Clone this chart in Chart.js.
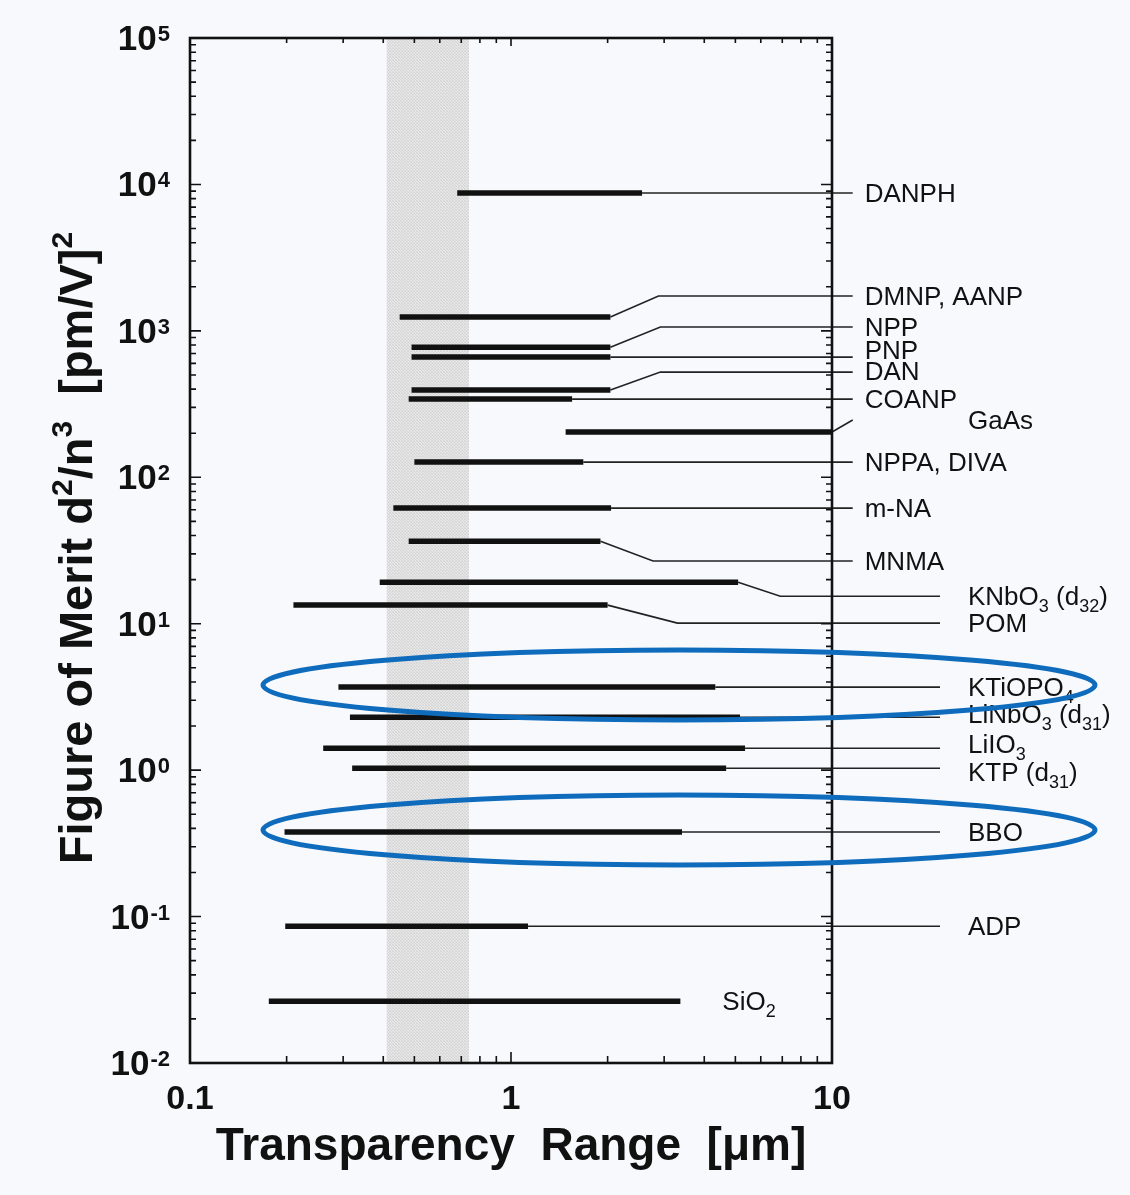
<!DOCTYPE html>
<html>
<head>
<meta charset="utf-8">
<script src="https://cdn.jsdelivr.net/npm/chart.js@4.4.1/dist/chart.umd.min.js"></script>
<style>
  html, body { margin: 0; padding: 0; background: #f7f9fc; }
  #wrap { width: 1130px; height: 1195px; }
</style>
</head>
<body>
<div id="wrap"><canvas id="c" width="1130" height="1195"></canvas></div>
<script>
// one entry per crystal, top to bottom; {..} marks a subscript
var materials = ["DANPH", "DMNP, AANP", "NPP", "PNP", "DAN", "COANP", "GaAs", "NPPA, DIVA", "m-NA", "MNMA",
  "KNbO{3} (d{32})", "POM", "KTiOPO{4}", "LiNbO{3} (d{31})", "LiIO{3}", "KTP (d{31})", "BBO", "ADP", "SiO{2}"];
// transparency range [um]
var rangeStart = [0.68, 0.45, 0.49, 0.49, 0.49, 0.48, 1.48, 0.50, 0.43, 0.48, 0.39, 0.21, 0.29, 0.315, 0.26, 0.32, 0.197, 0.198, 0.176];
var rangeEnd   = [2.56, 2.04, 2.04, 2.04, 2.04, 1.55, 10,   1.68, 2.05, 1.90, 5.1,  2.0,  4.33, 5.17,  5.36, 4.68, 3.41,  1.13,  3.37];
// figure of merit d^2/n^3 [(pm/V)^2]
var merit      = [8740, 1242, 774, 662, 394, 342, 204, 127, 61.6, 36.6, 19.2, 13.4, 3.69, 2.30, 1.41, 1.03, 0.378, 0.0859, 0.0264];
// leader lines: height at the label, where the slant ends, where the line stops
var labelMerit = [8740, 1728, 1062, 662, 523, 342, 246, 127, 61.6, 26.8, 15.4, 10.1, 3.69, 2.30, 1.41, 1.03, 0.378, 0.0859, null];
var kinkAt     = [null, 2.88, 2.92, null, 2.92, null, 11.6, null, null, 2.77, 6.9, 3.30, null, null, null, null, null, null, null];
var leaderEnd  = [11.6, 11.6, 11.6, 11.6, 11.6, 11.6, 21.7, 11.6, 11.6, 11.6, 21.7, 21.7, 21.7, 21.7, 21.7, 21.7, 21.7, 21.7, null];
// visible band [um]
var visibleBand = [0.41, 0.74];
// rings drawn round these rows
var circled = ["KTiOPO{4}", "BBO"];

var xTicks = [0.1, 1, 10];
var yDecades = [-2, -1, 0, 1, 2, 3, 4, 5];

var FONT = "'Liberation Sans', Arial, sans-serif";
var INK = "#111";
// crowded names are pushed apart a little (px)
var textNudge = { "PNP": -7, "DAN": -1, "LiNbO{3} (d{31})": -3, "LiIO{3}": -4, "KTP (d{31})": 4 };

// build the datasets
var datasets = [];
for (var i = 0; i < materials.length; i++) {
  datasets.push({
    data: [{ x: rangeStart[i], y: merit[i] }, { x: rangeEnd[i], y: merit[i] }],
    borderColor: INK, borderWidth: 5.5, pointRadius: 0, showLine: true, clip: false
  });
  if (leaderEnd[i] != null) {
    var pts = [{ x: rangeEnd[i], y: merit[i] }];
    if (kinkAt[i] != null) pts.push({ x: kinkAt[i], y: labelMerit[i] });
    pts.push({ x: leaderEnd[i], y: labelMerit[i] });
    datasets.push({
      data: pts, borderColor: "#222", borderWidth: 1.6, pointRadius: 0, showLine: true, clip: false
    });
  }
}

// split "KNbO{3}" into plain / subscript pieces
function pieces(s) {
  var out = [], re = /([^{]+)|\{([^}]*)\}/g, m;
  while ((m = re.exec(s)) !== null) {
    if (m[1] != null) out.push({ t: m[1], sub: false });
    else out.push({ t: m[2], sub: true });
  }
  return out;
}

function drawRich(ctx, s, x, y, size) {
  var parts = pieces(s);
  for (var k = 0; k < parts.length; k++) {
    var p = parts[k];
    ctx.font = (p.sub ? Math.round(size * 0.7) : size) + "px " + FONT;
    ctx.fillText(p.t, x, p.sub ? y + size * 0.26 : y);
    x += ctx.measureText(p.t).width;
  }
}

var band = {
  id: "band",
  beforeDatasetsDraw: function (chart) {
    var ctx = chart.ctx, a = chart.chartArea, xs = chart.scales.x;
    var pc = document.createElement("canvas");
    pc.width = 3; pc.height = 3;
    var pctx = pc.getContext("2d");
    var shades = ["#d4d4d4", "#e6e6e6", "#dcdcdc", "#eaeaea", "#d2d2d2", "#e4e4e4", "#dedede", "#e8e8e8", "#d8d8d8"];
    for (var q = 0; q < 9; q++) { pctx.fillStyle = shades[q]; pctx.fillRect(q % 3, Math.floor(q / 3), 1, 1); }
    var x0 = xs.getPixelForValue(visibleBand[0]), x1 = xs.getPixelForValue(visibleBand[1]);
    ctx.save();
    ctx.fillStyle = ctx.createPattern(pc, "repeat");
    ctx.fillRect(x0, a.top, x1 - x0, a.bottom - a.top);
    ctx.restore();
  }
};

var frame = {
  id: "frame",
  afterDraw: function (chart) {
    var ctx = chart.ctx, a = chart.chartArea, xs = chart.scales.x, ys = chart.scales.y;
    ctx.save();
    ctx.strokeStyle = INK;
    ctx.fillStyle = INK;

    // ticks, pointing inward on all four sides
    ctx.lineWidth = 1.6;
    ctx.beginPath();
    for (var k = -1; k <= 0; k++) {
      for (var m = 1; m <= 9; m++) {
        var v = m * Math.pow(10, k), px = xs.getPixelForValue(v);
        var len = m === 1 ? 11 : 7;
        ctx.moveTo(px, a.bottom); ctx.lineTo(px, a.bottom - len);
        ctx.moveTo(px, a.top); ctx.lineTo(px, a.top + (m === 1 ? 8 : 5));
      }
    }
    for (var d = -2; d < 5; d++) {
      for (var n = 1; n <= 9; n++) {
        var py = ys.getPixelForValue(n * Math.pow(10, d));
        var l2 = n === 1 ? 11 : 6;
        ctx.moveTo(a.left, py); ctx.lineTo(a.left + l2, py);
        ctx.moveTo(a.right, py); ctx.lineTo(a.right - l2, py);
      }
    }
    ctx.stroke();

    ctx.lineWidth = 2.6;
    ctx.strokeRect(a.left, a.top, a.right - a.left, a.bottom - a.top);

    // y tick labels 10^n
    ctx.textBaseline = "alphabetic";
    ctx.textAlign = "left";
    yDecades.forEach(function (e) {
      var y = ys.getPixelForValue(Math.pow(10, e));
      ctx.font = "bold 22px " + FONT;
      var sup = String(e), ws = ctx.measureText(sup).width;
      ctx.font = "bold 35px " + FONT;
      var wb = ctx.measureText("10").width;
      var xr = 170;
      ctx.fillText("10", xr - ws - 1 - wb, y + 12);
      ctx.font = "bold 22px " + FONT;
      ctx.fillText(sup, xr - ws, y + 3);
    });

    // x tick labels
    ctx.textAlign = "center";
    ctx.font = "bold 34px " + FONT;
    xTicks.forEach(function (v) {
      ctx.fillText(String(v), xs.getPixelForValue(v), a.bottom + 46);
    });

    // axis titles
    ctx.font = "bold 46px " + FONT;
    ctx.fillText("Transparency  Range  [\u03bcm]", (a.left + a.right) / 2, a.bottom + 97);

    var title = [["Figure of Merit d", false], ["2", true], ["/n", false], ["3", true], ["  [pm/V]", false], ["2", true]];
    var total = 0;
    title.forEach(function (t) {
      ctx.font = "bold " + (t[1] ? 30 : 47) + "px " + FONT;
      total += ctx.measureText(t[0]).width;
    });
    ctx.translate(92, 548);
    ctx.rotate(-Math.PI / 2);
    ctx.textAlign = "left";
    var cx = -total / 2;
    title.forEach(function (t) {
      ctx.font = "bold " + (t[1] ? 30 : 47) + "px " + FONT;
      ctx.fillText(t[0], cx, t[1] ? -20 : 0);
      cx += ctx.measureText(t[0]).width;
    });
    ctx.setTransform(1, 0, 0, 1, 0, 0);

    // crystal names at the end of the leaders
    ctx.textAlign = "left";
    for (var i = 0; i < materials.length; i++) {
      var lx, ly;
      if (leaderEnd[i] == null) {
        lx = xs.getPixelForValue(rangeEnd[i]) + 42;
        ly = ys.getPixelForValue(merit[i]);
      } else {
        lx = xs.getPixelForValue(leaderEnd[i]) + (leaderEnd[i] > 15 ? 28 : 12);
        ly = ys.getPixelForValue(labelMerit[i]);
      }
      ly += textNudge[materials[i]] || 0;
      drawRich(ctx, materials[i], lx, ly + 9, 26);
    }

    // blue rings
    ctx.strokeStyle = "#0f6cbd";
    ctx.lineWidth = 5;
    circled.forEach(function (name) {
      var idx = materials.indexOf(name);
      var cy = ys.getPixelForValue(merit[idx]) - 2;
      ctx.beginPath();
      ctx.ellipse(679, cy, 416, 35, 0, 0, Math.PI * 2);
      ctx.stroke();
    });
    ctx.restore();
  }
};

new Chart(document.getElementById("c"), {
  type: "scatter",
  data: { datasets: datasets },
  options: {
    responsive: false,
    animation: false,
    devicePixelRatio: 1,
    layout: { padding: { left: 190, right: 298, top: 38, bottom: 132 } },
    plugins: { legend: { display: false }, tooltip: { enabled: false } },
    elements: { line: { tension: 0, borderCapStyle: "butt" } },
    scales: {
      x: { type: "logarithmic", min: 0.1, max: 10, display: false },
      y: { type: "logarithmic", min: 0.01, max: 100000, display: false }
    }
  },
  plugins: [band, frame]
});
</script>
</body>
</html>
